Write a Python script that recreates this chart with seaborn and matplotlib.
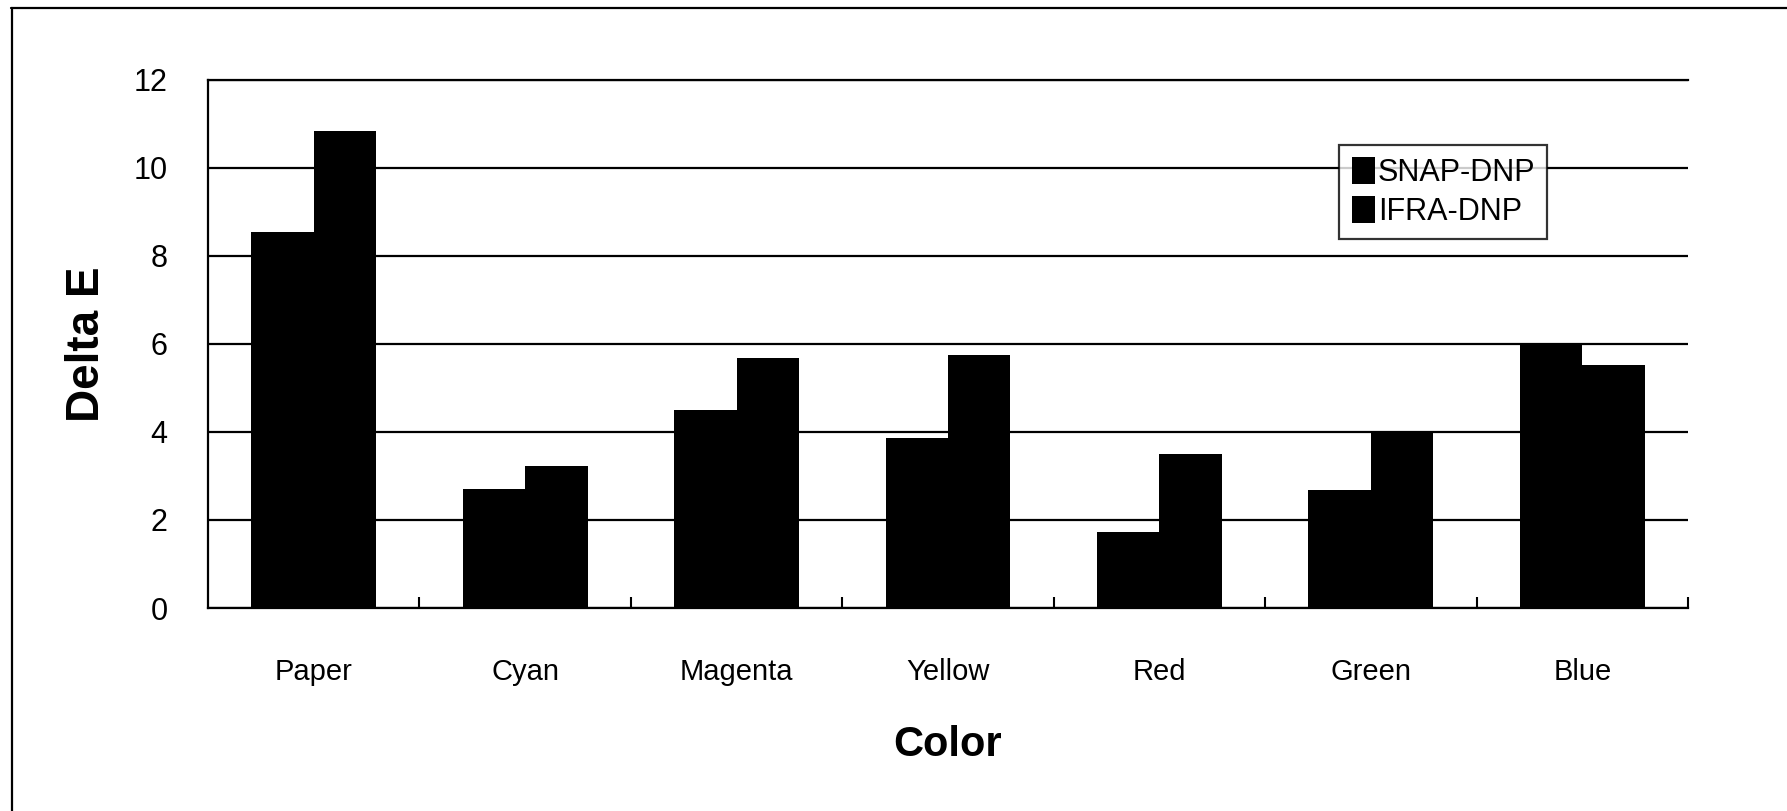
import matplotlib
matplotlib.use("Agg")
import matplotlib.pyplot as plt
from matplotlib.lines import Line2D
from matplotlib.ticker import FixedLocator
import pandas as pd
import seaborn as sns

colors = ["Paper", "Cyan", "Magenta", "Yellow", "Red", "Green", "Blue"]
snap_dnp = [8.55, 2.70, 4.49, 3.87, 1.73, 2.68, 5.99]
ifra_dnp = [10.83, 3.22, 5.68, 5.75, 3.50, 3.99, 5.52]
series = ["SNAP-DNP", "IFRA-DNP"]

df = pd.DataFrame({
    "Color": colors * 2,
    "Delta E": snap_dnp + ifra_dnp,
    "Series": [series[0]] * len(colors) + [series[1]] * len(colors),
})

sns.set_theme(style="white")
plt.rcParams["font.family"] = ["Liberation Sans", "DejaVu Sans"]
plt.rcParams["text.color"] = "black"
plt.rcParams["axes.labelcolor"] = "black"
plt.rcParams["xtick.color"] = "black"
plt.rcParams["ytick.color"] = "black"

fig, ax = plt.subplots(figsize=(17.87, 8.11), dpi=100)
fig.subplots_adjust(left=0.1164, right=0.9446, top=0.9014, bottom=0.2503)

sns.barplot(data=df, x="Color", y="Delta E", hue="Series", hue_order=series,
            palette=["black", "black"], width=0.59, ax=ax, saturation=1,
            edgecolor="black", linewidth=0)

ax.set_ylim(0, 12)
ax.set_xlim(-0.5, len(colors) - 0.5)
ax.set_yticks(range(0, 13, 2))
ax.yaxis.grid(True, color="black", linewidth=1.6)
ax.set_axisbelow(True)

for side in ["left", "bottom", "top"]:
    ax.spines[side].set_color("black")
    ax.spines[side].set_linewidth(1.6)
ax.spines["right"].set_visible(False)

# little inward ticks between the category groups
ax.xaxis.set_minor_locator(FixedLocator([i + 0.5 for i in range(len(colors))]))
ax.tick_params(axis="x", which="major", length=0, labelsize=21, pad=36)
ax.tick_params(axis="x", which="minor", direction="in", length=8, width=1.5,
               color="black", bottom=True)
ax.tick_params(axis="y", length=0, labelsize=22, pad=29)

ax.set_xlabel("Color", fontsize=30, fontweight="bold", labelpad=28)
ax.set_ylabel("Delta E", fontsize=33, fontweight="bold", labelpad=18)

leg = ax.legend(loc="upper right", bbox_to_anchor=(0.905, 0.877), fontsize=22,
                frameon=True, fancybox=False, edgecolor="black",
                handlelength=0.75, handleheight=1.0, handletextpad=0.1,
                borderpad=0.4, labelspacing=0.25, borderaxespad=0)
leg.get_frame().set_linewidth(1.6)

# page border (top and left only)
fig.add_artist(Line2D([11 / 1787, 1], [1 - 8 / 811, 1 - 8 / 811], color="black", lw=1.6))
fig.add_artist(Line2D([12 / 1787, 12 / 1787], [0, 1 - 8 / 811], color="black", lw=1.6))

fig.savefig("out.png", dpi=100, facecolor="white")
